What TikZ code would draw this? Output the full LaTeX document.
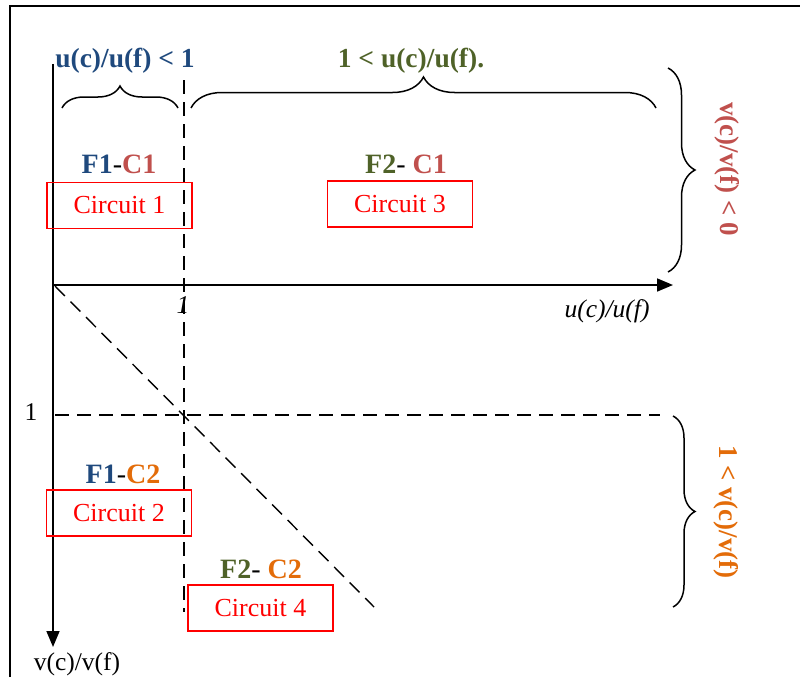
\documentclass[tikz,border=0pt]{standalone}
\usepackage{fontspec}
\setmainfont{Liberation Serif}
\usetikzlibrary{arrows.meta,decorations.pathreplacing}
\definecolor{cblue}{RGB}{31,73,125}
\definecolor{cgreen}{RGB}{79,98,40}
\definecolor{cred}{RGB}{192,80,77}
\definecolor{corange}{RGB}{227,108,9}
\begin{document}
\begin{tikzpicture}[x=1pt,y=-1pt,
 axis/.style={line width=1.7pt,-{Triangle[length=16pt,width=13pt]}},
 dline/.style={line width=1.4pt,dash pattern=on 14pt off 8pt},
 circ/.style={draw=red,line width=1.6pt,text=red,minimum width=145pt,minimum height=46pt,inner sep=0pt,font=\fontsize{26}{30}\selectfont},
 blab/.style={font=\bfseries\fontsize{28}{32}\selectfont,anchor=base,inner sep=0pt},
 tlab/.style={font=\bfseries\fontsize{27.5}{32}\selectfont,anchor=base,inner sep=0pt},
 plab/.style={font=\fontsize{25.5}{30}\selectfont,anchor=base,inner sep=0pt},
 rlab/.style={font=\bfseries\fontsize{27}{32}\selectfont,rotate=-90,inner sep=0pt},
 brc/.style={line width=1.5pt,decorate,decoration={brace,amplitude=#1}},
]
\useasboundingbox (0,0) rectangle (800,677);
\draw[line width=2.5pt] (10,677) -- (10,6) -- (800,6);
% axes
\coordinate (O) at (53,285);
\coordinate (vtop) at (53,64);
\coordinate (vend) at (53,647);
\coordinate (uend) at (673,285);
\draw[line width=1.7pt] (vtop) -- (O);
\draw[axis] (O) -- (vend);
\draw[axis] (O) -- (uend);
% dashed lines
\coordinate (d1a) at (184,80);
\coordinate (d1b) at (184,612);
\coordinate (d2a) at (55,415);
\coordinate (d2b) at (660,415);
\coordinate (d3a) at (55,286);
\coordinate (d3b) at (374,607);
\draw[dline] (d1a) -- (d1b);
\draw[dline] (d2a) -- (d2b);
\draw[dline] (d3a) -- (d3b);
% axis labels
\node[plab] (vlab) at (77,670) {v(c)/v(f)};
\node[plab] (ulab) at (607,317) {\textit{u(c)/u(f)}};
\node[plab] (one) at (31,420) {1};
\node[plab] (onei) at (183,313) {\textit{1}};
% top braces
\coordinate (b1a) at (62,108);
\coordinate (b1b) at (178,108);
\coordinate (b2a) at (191,108);
\coordinate (b2b) at (656,108);
\draw[brc=22pt] (b1a) -- (b1b);
\draw[brc=31pt] (b2a) -- (b2b);
\node[tlab,text=cblue] (tl1) at (125,67) {u(c)/u(f) < 1};
\node[tlab,text=cgreen] (tl2) at (411,67) {1 < u(c)/u(f).};
% right braces
\coordinate (r1a) at (668,68);
\coordinate (r1b) at (668,272);
\coordinate (r2a) at (673,416);
\coordinate (r2b) at (673,607);
\draw[brc=27pt] (r1a) -- (r1b);
\draw[brc=22pt] (r2a) -- (r2b);
\node[rlab,text=cred] (rl1) at (727,169) {v(c)/v(f) < 0};
\node[rlab,text=corange] (rl2) at (726,512) {1 < v(c)/v(f)};
% circuits
\node[circ] (c1) at (119.5,205.5) {Circuit 1};
\node[circ] (c3) at (400,204) {Circuit 3};
\node[circ] (c2) at (119,513) {Circuit 2};
\node[circ] (c4) at (260.5,608) {Circuit 4};
% circuit labels
\node[blab] (f1c1) at (119,173) {\textcolor{cblue}{F1}\textmd{-}\textcolor{cred}{C1}};
\node[blab] (f2c1) at (406,173) {\textcolor{cgreen}{F2}\textmd{- }\textcolor{cred}{C1}};
\node[blab] (f1c2) at (123,483) {\textcolor{cblue}{F1}\textmd{-}\textcolor{corange}{C2}};
\node[blab] (f2c2) at (261,578) {\textcolor{cgreen}{F2}\textmd{- }\textcolor{corange}{C2}};
\end{tikzpicture}
\end{document}
